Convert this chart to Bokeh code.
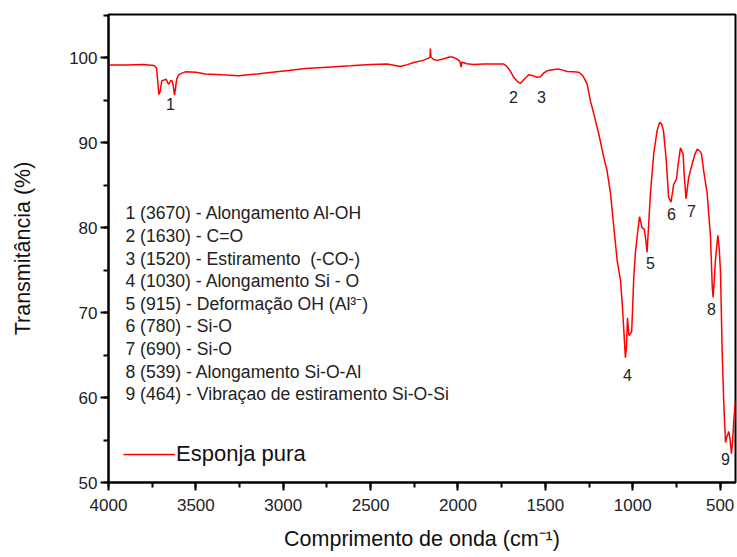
from bokeh.plotting import figure
from bokeh.models import Range1d, SingleIntervalTicker, Legend, LegendItem
from bokeh.core.properties import value
from bokeh.embed import file_html
from bokeh.resources import INLINE

# FTIR spectrum of the pure sponge: wavenumber (cm-1) vs transmittance (%)
wavenumber = [
    4000, 3900, 3800, 3740, 3725, 3715, 3712, 3705, 3695, 3680, 3670, 3660,
    3655, 3645, 3636, 3628, 3622, 3616, 3610, 3598, 3580, 3560, 3500, 3445,
    3350, 3254, 3150, 3063, 2970, 2873, 2750, 2615, 2500, 2405, 2360, 2329,
    2290, 2253, 2200, 2167, 2160, 2158, 2155, 2140, 2119, 2080, 2050, 2033,
    2010, 1990, 1982, 1978, 1950, 1910, 1853, 1757, 1738, 1720, 1700, 1681,
    1660, 1643, 1620, 1595, 1570, 1548, 1528, 1510, 1490, 1460, 1423, 1400,
    1376, 1340, 1309, 1290, 1280, 1261, 1242, 1223, 1194, 1166, 1147, 1127,
    1108, 1089, 1070, 1060, 1051, 1042, 1036, 1030, 1022, 1014, 1006, 994,
    985, 975, 961, 947, 934, 925, 918, 910, 899, 880, 861, 846, 835, 824,
    808, 795, 781, 770, 766, 750, 740, 727, 712, 705, 695, 680, 660, 645,
    631, 615, 607, 594, 574, 555, 545, 540, 533, 527, 513, 505, 498, 488,
    479, 469, 460, 450, 443, 435, 428, 422, 412,
]
transmittance = [
    99.15, 99.15, 99.2, 99.1, 98.8, 96.5, 95.7, 96.0, 97.3, 97.4, 97.5, 97.0,
    96.9, 97.3, 97.3, 96.5, 95.6, 96.5, 97.5, 98.0, 98.2, 98.35, 98.3, 98.1,
    98.0, 97.9, 98.1, 98.3, 98.5, 98.74, 98.9, 99.06, 99.2, 99.26, 99.1, 98.98,
    99.2, 99.45, 99.7, 99.96, 100.1, 101.1, 100.1, 99.8, 99.7, 99.9, 100.1, 100.1,
    99.9, 99.6, 98.9, 99.5, 99.3, 99.2, 99.26, 99.26, 99.26, 99.0, 98.4, 97.7,
    97.2, 96.98, 97.5, 98.0, 97.9, 97.7, 97.76, 98.2, 98.47, 98.6, 98.67, 98.55,
    98.4, 98.35, 98.3, 98.0, 97.7, 96.9, 94.9, 93.4, 91.0, 88.3, 86.7, 84.0,
    80.0, 76.1, 73.8, 71.0, 67.9, 64.7, 66.0, 69.4, 67.3, 67.5, 67.8, 74.2,
    77.0, 78.9, 81.3, 80.0, 79.8, 78.5, 77.1, 80.0, 84.0, 88.7, 91.4, 92.4, 92.2, 91.4,
    87.9, 83.6, 83.0, 84.5, 85.1, 85.7, 87.5, 89.4, 88.7, 86.0, 83.4, 85.9, 87.5, 88.6,
    89.25, 89.0, 88.7, 86.7, 84.0, 78.9, 73.0, 71.8, 74.0, 76.1, 79.1, 77.5, 74.9, 65.2,
    59.3, 54.7, 55.5, 56.0, 55.0, 53.4, 55.0, 57.3, 59.6,
]

# Band numbers placed next to the absorption minima
peak_ids = ["1", "2", "3", "4", "5", "6", "7", "8", "9"]
peak_label_x = [3645, 1683, 1522, 1030, 899, 779, 664, 549, 469]
peak_label_y = [94.6, 95.4, 95.4, 62.6, 75.8, 81.6, 82.0, 70.4, 52.8]

# Band assignments
band_labels = [
    "1 (3670) - Alongamento Al-OH",
    "2 (1630) - C=O",
    "3 (1520) - Estiramento \u00a0(-CO-)",
    "4 (1030) - Alongamento Si - O",
    "5 (915) - Deformação OH (Al³⁻)",
    "6 (780) - Si-O",
    "7 (690) - Si-O",
    "8 (539) - Alongamento Si-O-Al",
    "9 (464) - Vibraçao de estiramento Si-O-Si",
]

FONT = "Liberation Sans"

p = figure(
    width=737, height=557,
    output_backend="svg", toolbar_location=None,
    x_range=Range1d(4000, 412), y_range=Range1d(50, 105.1),
    min_border_left=108, min_border_right=2, min_border_top=14, min_border_bottom=75,
)
p.background_fill_color = "white"
p.border_fill_color = "white"
p.outline_line_color = "black"
p.outline_line_width = 2
p.xgrid.visible = False
p.ygrid.visible = False

curve = p.line(wavenumber, transmittance, line_color="#ff0000", line_width=1.5)

# peak numbers
p.text(x=peak_label_x, y=peak_label_y, text=peak_ids,
       text_font=value(FONT), text_font_size="16px", text_color="#222222",
       text_align="center", text_baseline="middle")

# assignment list, one line each
top_y, step = 81.68, 2.66
p.text(x=[3903] * len(band_labels),
       y=[top_y - i * step for i in range(len(band_labels))],
       text=band_labels,
       text_font=value(FONT), text_font_size="17.6px", text_color="#222222",
       text_align="left", text_baseline="middle")

p.xaxis.ticker = SingleIntervalTicker(interval=500, num_minor_ticks=2)
p.yaxis.ticker = SingleIntervalTicker(interval=10, num_minor_ticks=2)

for ax in (p.xaxis[0], p.yaxis[0]):
    ax.axis_line_width = 2
    ax.axis_line_color = "black"
    ax.major_tick_line_width = 2
    ax.minor_tick_line_width = 2
    ax.major_tick_in = 0
    ax.minor_tick_in = 0
    ax.major_tick_out = 8
    ax.minor_tick_out = 5
    ax.major_label_text_font = FONT
    ax.major_label_text_font_size = "17px"
    ax.major_label_text_color = "#222222"
    ax.axis_label_text_font = FONT
    ax.axis_label_text_font_size = "21.5px"
    ax.axis_label_text_font_style = "normal"
    ax.axis_label_text_color = "#111111"

p.xaxis.axis_label = "Comprimento de onda (cm⁻¹)"
p.yaxis.axis_label = "Transmitância (%)"
p.xaxis.major_label_standoff = 8
p.xaxis.axis_label_standoff = 13
p.yaxis.major_label_standoff = 3
p.yaxis.axis_label_standoff = 31

legend = Legend(
    items=[LegendItem(label="Esponja pura", renderers=[curve])],
    location=(15, 15),
    glyph_width=52, glyph_height=24, label_standoff=1,
    padding=0, margin=0, spacing=0,
    background_fill_alpha=0, border_line_alpha=0,
    label_text_font=FONT, label_text_font_size="22px", label_text_color="#111111",
)
p.add_layout(legend)

open("out.html", "w").write(file_html(p, INLINE))
